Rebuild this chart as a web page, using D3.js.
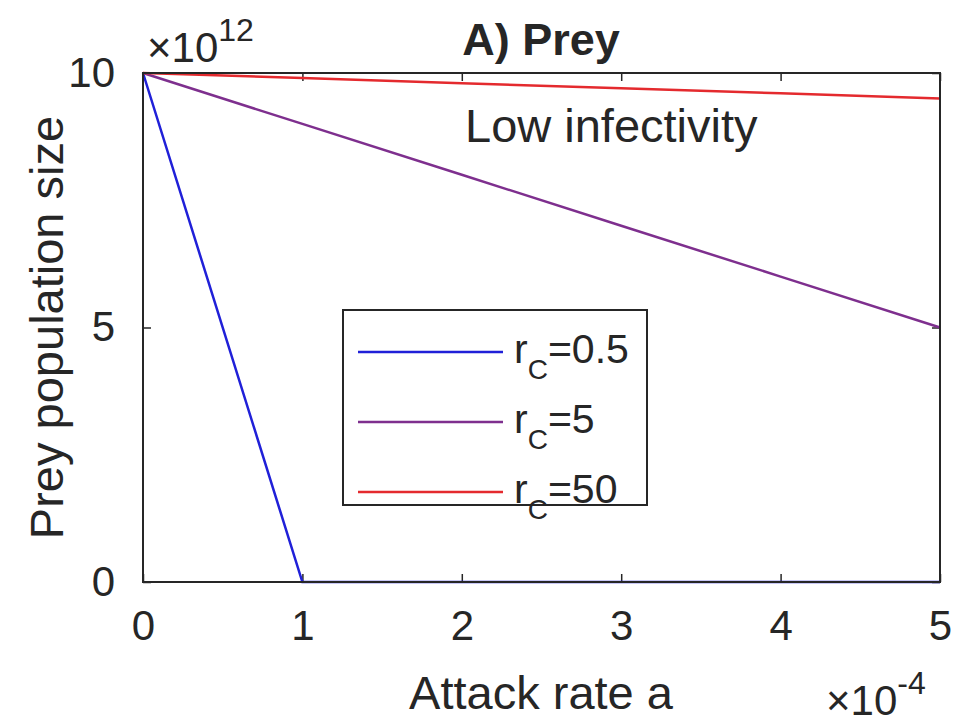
<!DOCTYPE html>
<html>
<head>
<meta charset="utf-8">
<script src="https://cdn.jsdelivr.net/npm/d3@7"></script>
<style>
  body { margin: 0; background: #fff; }
  svg text { font-family: "Liberation Sans", Arial, sans-serif; fill: #262626; }
</style>
</head>
<body>
<svg id="chart" width="953" height="723"></svg>
<script>
// attack rate a (x1e-4) and prey population size (x1e12)
const attackRate = [0, 1, 2, 3, 4, 5];
const preyLow   = [10, 0, 0, 0, 0, 0];           // r_C = 0.5
const preyMid   = [10, 9, 8, 7, 6, 5];           // r_C = 5
const preyHigh  = [10, 9.9, 9.8, 9.7, 9.6, 9.5]; // r_C = 50
const seriesNames = ["0.5", "5", "50"];
const seriesColors = ["#2020d8", "#7e2f8e", "#e42a2e"];
const xTicks = [0, 1, 2, 3, 4, 5];
const yTicks = [0, 5, 10];

const svg = d3.select("#chart");
const mLeft = 143, mRight = 940, mTop = 73, mBottom = 582;

const x = d3.scaleLinear().domain([0, 5]).range([mLeft, mRight]);
const y = d3.scaleLinear().domain([0, 10]).range([mBottom, mTop]);

const axisColor = "#262626";

// ticks inside (matlab style)
svg.append("g").attr("transform", `translate(0,${mBottom})`)
  .call(d3.axisBottom(x).tickValues(xTicks).tickSize(-8).tickPadding(28).tickFormat(d3.format("d")))
  .call(g => g.select(".domain").remove());
svg.append("g").attr("transform", `translate(0,${mTop})`)
  .call(d3.axisTop(x).tickValues(xTicks).tickSize(-8).tickFormat(""))
  .call(g => g.select(".domain").remove());
svg.append("g").attr("transform", `translate(${mLeft},0)`)
  .call(d3.axisLeft(y).tickValues(yTicks).tickSize(-8).tickPadding(28).tickFormat(d3.format("d")))
  .call(g => g.select(".domain").remove());
svg.append("g").attr("transform", `translate(${mRight},0)`)
  .call(d3.axisRight(y).tickValues(yTicks).tickSize(-8).tickFormat(""))
  .call(g => g.select(".domain").remove());

svg.selectAll(".tick line").attr("stroke", axisColor).attr("stroke-width", 1.5);
svg.selectAll(".tick text").attr("font-size", 42).attr("fill", axisColor);

// data lines
const line = d3.line().x((d, i) => x(attackRate[i])).y(d => y(d));
[preyLow, preyMid, preyHigh].forEach((s, k) => {
  svg.append("path").datum(s)
    .attr("fill", "none")
    .attr("stroke", seriesColors[k])
    .attr("stroke-width", 2.5)
    .attr("d", line);
});

// box
svg.append("rect")
  .attr("x", mLeft).attr("y", mTop)
  .attr("width", mRight - mLeft).attr("height", mBottom - mTop)
  .attr("fill", "none").attr("stroke", axisColor).attr("stroke-width", 2);

// exponents
const e1 = svg.append("text").attr("x", 147).attr("y", 62).attr("font-size", 42);
e1.append("tspan").text("×10");
e1.append("tspan").attr("dy", -21).attr("font-size", 32).text("12");

const e2 = svg.append("text").attr("x", 826).attr("y", 715).attr("font-size", 42);
e2.append("tspan").text("×10");
e2.append("tspan").attr("dy", -21).attr("font-size", 32).text("-4");

// title and labels
svg.append("text").attr("x", 541).attr("y", 55)
  .attr("text-anchor", "middle").attr("font-size", 45).attr("font-weight", "bold")
  .text("A) Prey");
svg.append("text").attr("x", 541).attr("y", 709)
  .attr("text-anchor", "middle").attr("font-size", 47)
  .text("Attack rate a");
svg.append("text")
  .attr("transform", `translate(63,${(mTop + mBottom) / 2}) rotate(-90)`)
  .attr("text-anchor", "middle").attr("font-size", 47)
  .text("Prey population size");

svg.append("text").attr("x", 465).attr("y", 142)
  .attr("font-size", 47)
  .text("Low infectivity");

// legend
const lg = svg.append("g");
lg.append("rect").attr("x", 343).attr("y", 310).attr("width", 304).attr("height", 195)
  .attr("fill", "#fff").attr("stroke", axisColor).attr("stroke-width", 2);
seriesNames.forEach((n, i) => {
  const ly = 352 + i * 70;
  lg.append("line").attr("x1", 358).attr("x2", 503).attr("y1", ly).attr("y2", ly)
    .attr("stroke", seriesColors[i]).attr("stroke-width", 2.5);
  const t = lg.append("text").attr("x", 514).attr("y", ly + 11).attr("font-size", 41);
  t.append("tspan").text("r");
  t.append("tspan").attr("dy", 16).attr("font-size", 28).text("C");
  t.append("tspan").attr("dy", -16).text("=" + n);
});
</script>
</body>
</html>
